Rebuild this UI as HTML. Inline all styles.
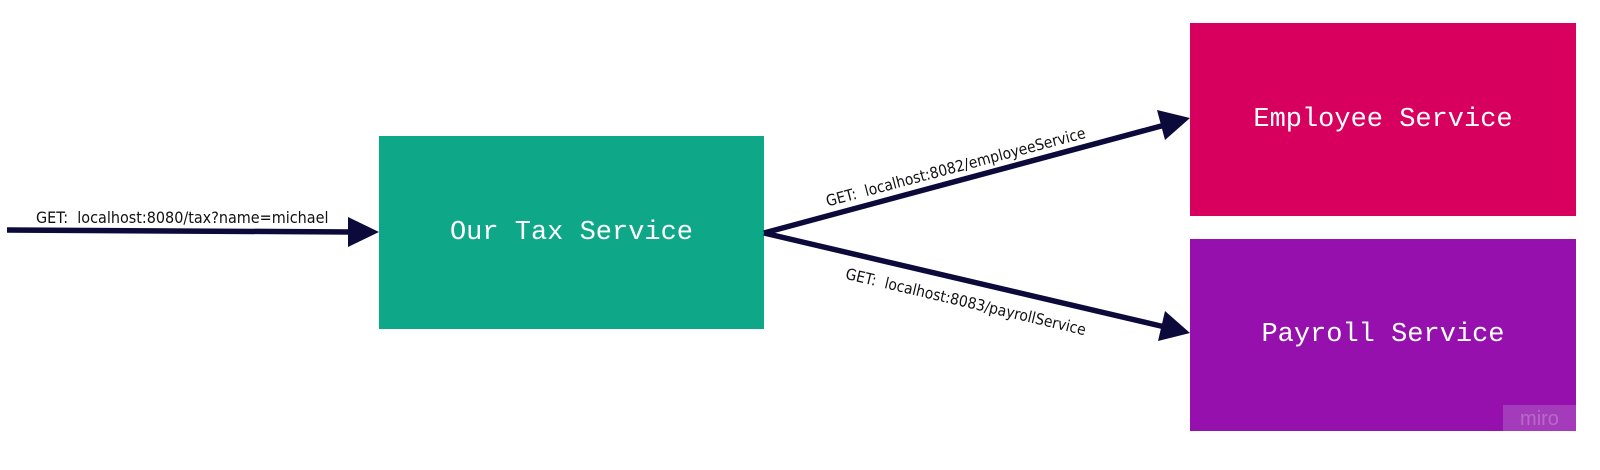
<!DOCTYPE html>
<html><head><style>
body{margin:0;width:1600px;height:470px;background:#fff;overflow:hidden;position:relative;font-family:"Liberation Sans",sans-serif}
.box{position:absolute;display:flex;align-items:center;justify-content:center;color:#fff;font-family:"Liberation Mono","DejaVu Sans Mono",monospace;font-size:27px}
.lbl{position:absolute;font-family:"DejaVu Sans Condensed","Liberation Sans Narrow","Liberation Sans",sans-serif;font-size:15.5px;color:#111;white-space:nowrap;transform-origin:0 0}
</style></head><body>
<div class="box" style="left:379px;top:136px;width:385px;height:193px;background:#0ea888">Our Tax Service</div>
<div class="box" style="left:1190px;top:23px;width:386px;height:193px;background:#d8005f">Employee Service</div>
<div class="box" style="left:1190px;top:239px;width:386px;height:192px;background:#9510ad">Payroll Service</div>
<div style="position:absolute;left:1503px;top:405px;width:73px;height:26px;background:#a43bba;color:#b86ac8;font-size:20px;text-align:center;line-height:28px">miro</div>
<svg width="1600" height="470" style="position:absolute;left:0;top:0">
<g stroke="#0b0a3a" stroke-width="5.5" fill="none">
<line x1="7" y1="230" x2="352" y2="232"/>
<line x1="764" y1="233" x2="1165" y2="125"/>
<line x1="764" y1="233" x2="1165" y2="327"/>
</g>
<g fill="#0b0a3a">
<polygon points="1190,118 1157,110 1165,140"/>
<polygon points="379,232 348,217 348,247"/>
<polygon points="1190,333 1165,311 1158,341"/>
</g>
</svg>
<div class="lbl" style="left:36px;top:208px;font-size:16px">GET:&nbsp; localhost:8080/tax?name=michael</div>
<div class="lbl" style="left:824px;top:193px;transform:rotate(-14.9deg)">GET:&nbsp; localhost:8082/employeeService</div>
<div class="lbl" style="left:848px;top:265px;transform:rotate(13.3deg)">GET:&nbsp; localhost:8083/payrollService</div>
</body></html>
